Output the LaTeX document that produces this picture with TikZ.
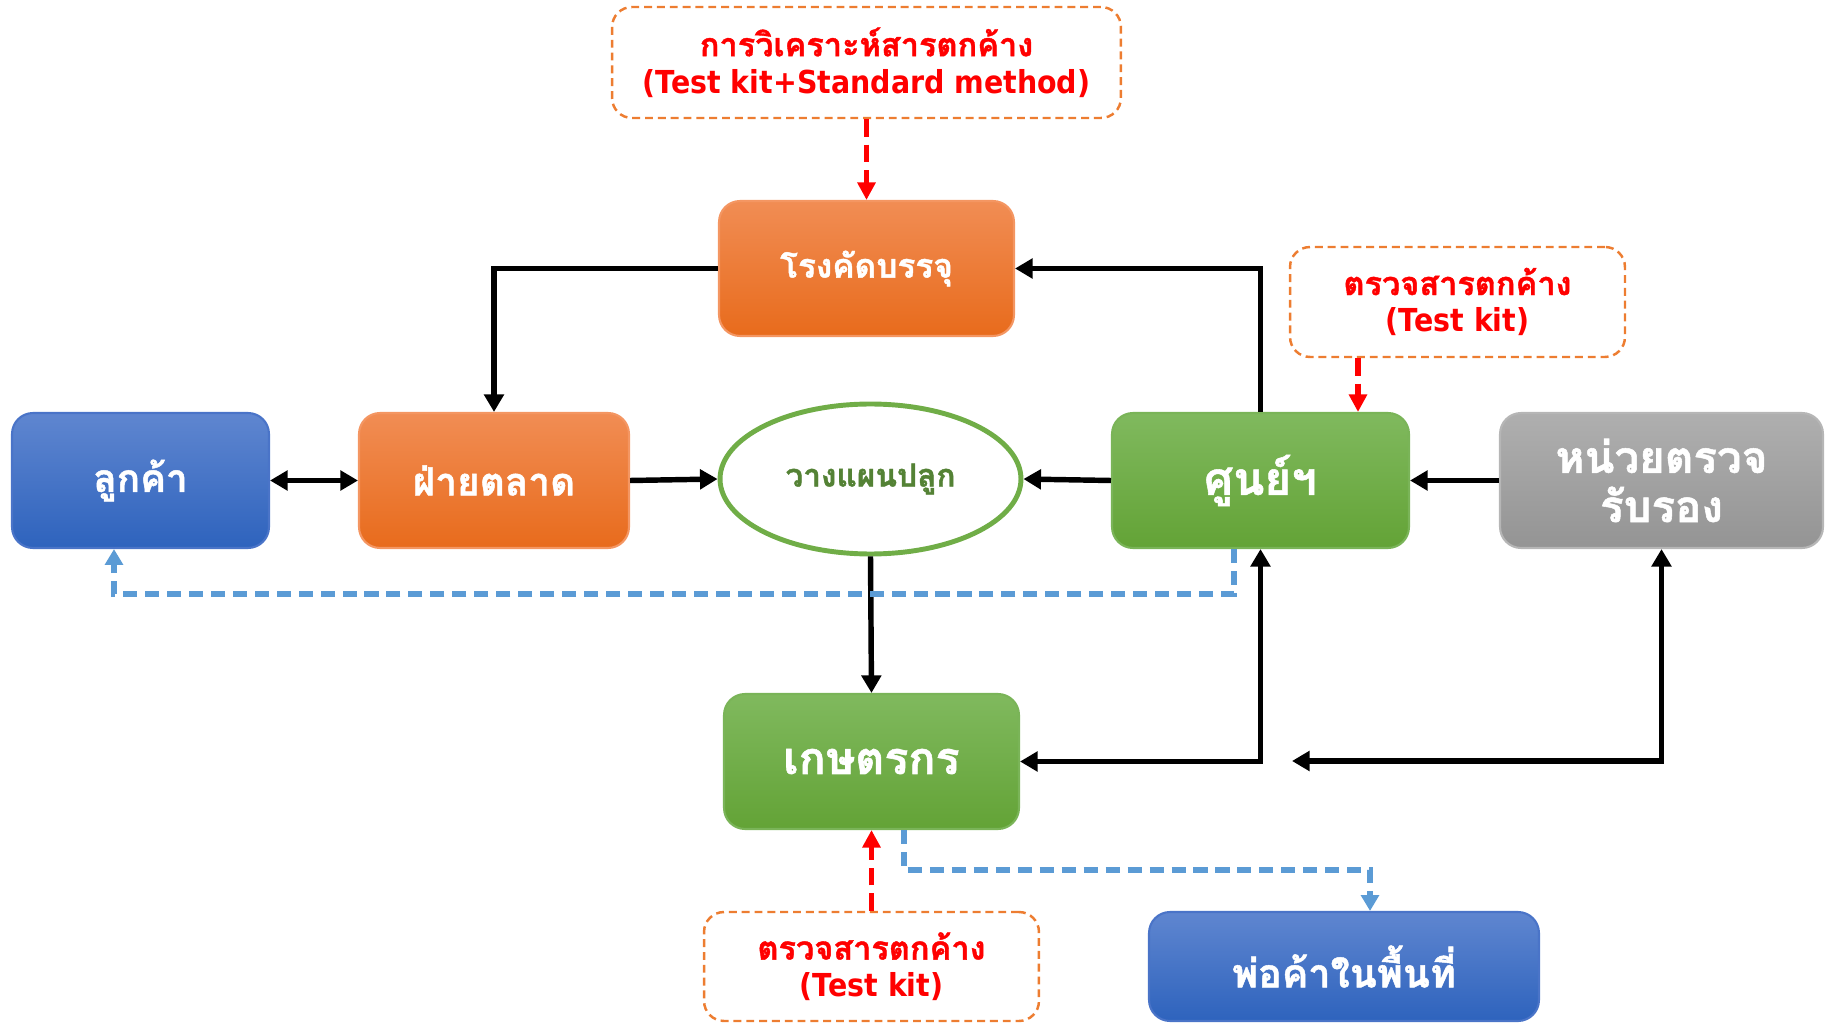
\documentclass[tikz,border=0pt]{standalone}
\usepackage{fontspec}
\newfontfamily\thaifont[Script=Thai, BoldFeatures={FakeBold=1.2}]{Loma}
\newfontfamily\latinfont[FakeStretch=0.9]{DejaVu Sans Bold}
\usetikzlibrary{arrows.meta,shapes.geometric}
\definecolor{blueT}{RGB}{95,134,208}
\definecolor{blueB}{RGB}{46,99,189}
\definecolor{blueD}{RGB}{74,116,200}
\definecolor{orT}{RGB}{241,141,84}
\definecolor{orB}{RGB}{232,107,28}
\definecolor{orD}{RGB}{244,150,98}
\definecolor{grT}{RGB}{128,185,94}
\definecolor{grB}{RGB}{99,163,54}
\definecolor{grD}{RGB}{122,180,88}
\definecolor{gyT}{RGB}{175,175,175}
\definecolor{gyB}{RGB}{148,148,148}
\definecolor{gyD}{RGB}{182,182,182}
\definecolor{planG}{RGB}{84,130,53}
\definecolor{planB}{RGB}{112,173,71}
\definecolor{dashO}{RGB}{237,125,49}
\definecolor{lineB}{RGB}{91,155,213}
\tikzset{
  mainbox/.style={rectangle, rounded corners=0.42cm, line width=1.2pt, text=white,
     font=\thaifont\bfseries\fontsize{22}{26}\selectfont, align=center, inner sep=2pt,
     minimum height=2.7cm},
  bluebox/.style={mainbox, top color=blueT, bottom color=blueB, draw=blueD},
  orbox/.style={mainbox, top color=orT, bottom color=orB, draw=orD},
  grbox/.style={mainbox, top color=grT, bottom color=grB, draw=grD},
  gybox/.style={mainbox, top color=gyT, bottom color=gyB, draw=gyD},
  notebox/.style={rectangle, rounded corners=0.4cm, draw=dashO, line width=1.4pt,
     dash pattern=on 4.5pt off 2.8pt, fill=white, text=red, align=center,
     font=\thaifont\bfseries\fontsize{18.5}{21}\selectfont, inner sep=2pt},
  blk/.style={line width=3.1pt, draw=black, -{Triangle[length=10pt,width=11pt]}},
  blk2/.style={line width=3.1pt, draw=black, {Triangle[length=10pt,width=11pt]}-{Triangle[length=10pt,width=11pt]}},
  redd/.style={line width=3pt, draw=red, dash pattern=on 10pt off 4.5pt, -{Triangle[length=10pt,width=10pt]}},
  blued/.style={line width=2.9pt, draw=lineB, dash pattern=on 8pt off 4.5pt, -{Triangle[length=9pt,width=10pt]}},
}
\begin{document}
\begin{tikzpicture}[x=0.02cm, y=-0.02cm]
\useasboundingbox (0,0) rectangle (1836,1023);
% nodes
\node[bluebox, minimum width=5.14cm] (lukka) at (140.5,480.5) {ลูกค้า};
\node[orbox, minimum width=5.4cm] (market) at (494,480.5) {ฝ่ายตลาด};
\node[ellipse, draw=planB, line width=2.8pt, fill=white, minimum width=6.02cm, minimum height=3.0cm,
      text=planG, font=\thaifont\bfseries\fontsize{18}{21}\selectfont] (plan) at (870.5,479) {วางแผนปลูก};
\node[grbox, minimum width=5.94cm, font=\thaifont\bfseries\fontsize{26}{30}\selectfont] (center) at (1260.5,480.5) {ศูนย์ฯ};
\node[gybox, minimum width=6.46cm, font=\thaifont\bfseries\fontsize{25}{28}\selectfont] (cert) at (1661.5,480.5) {หน่วยตรวจ\\รับรอง};
\node[orbox, minimum width=5.9cm, font=\thaifont\bfseries\fontsize{19}{23}\selectfont] (pack) at (866.5,268.5) {โรงคัดบรรจุ};
\node[notebox, minimum width=10.18cm, minimum height=2.22cm] (lab) at (866.5,62.5) {การวิเคราะห์สารตกค้าง\\{\latinfont\fontsize{18}{21}\selectfont (Test kit+Standard method)}};
\node[notebox, minimum width=6.7cm, minimum height=2.2cm] (testR) at (1457.5,302) {ตรวจสารตกค้าง\\{\latinfont\fontsize{18}{21}\selectfont (Test kit)}};
\node[grbox, minimum width=5.9cm, font=\thaifont\bfseries\fontsize{25.5}{29}\selectfont] (farmer) at (871.5,761.5) {เกษตรกร};
\node[notebox, minimum width=6.7cm, minimum height=2.18cm] (testB) at (871.5,966.5) {ตรวจสารตกค้าง\\{\latinfont\fontsize{18}{21}\selectfont (Test kit)}};
\node[bluebox, minimum width=7.8cm, minimum height=2.18cm, font=\thaifont\bfseries\fontsize{22.5}{26}\selectfont] (trader) at (1344,966.5) {พ่อค้าในพื้นที่};
\coordinate (freeend) at (1292,761);
% connectors
\draw[redd] (lab.south) -- (pack.north);
\draw[blk] (pack.west) -| (market.north);
\draw[blk] (center.north) |- (pack.east);
\draw[redd] (testR.south -| 1358,0) -- (center.north -| 1358,0);
\draw[blk2] (lukka.east) -- (market.west);
\draw[blk] (market.east) -- (plan.west);
\draw[blk] (center.west) -- (plan.east);
\draw[blk] (cert.west) -- (center.east);
\draw[blk] (plan.south) -- (farmer.north);
\draw[blk2] (center.south) |- (farmer.east);
\draw[blk2] (cert.south) |- (freeend);
\draw[blued] (center.south -| 1234,0) -- (1234,594) -| (lukka.south -| 114,0);
\draw[blued] (farmer.south -| 904,0) -- (904,870) -| (trader.north -| 1370,0);
\draw[redd] (testB.north) -- (farmer.south);
\end{tikzpicture}
\end{document}
